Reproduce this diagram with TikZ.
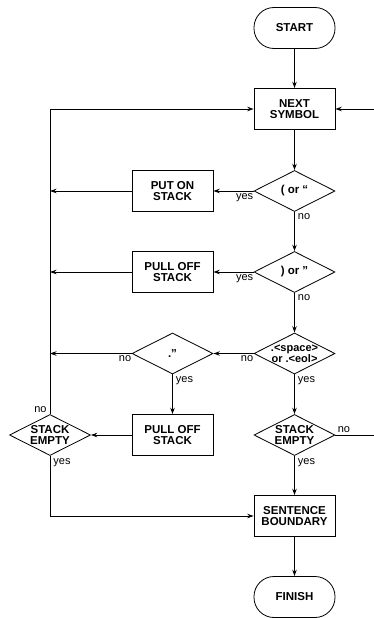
\documentclass[tikz,border=0pt]{standalone}
\usepackage{fontspec}
\setmainfont{Liberation Sans}
\usetikzlibrary{arrows.meta,shapes.geometric}
\begin{document}
\begin{tikzpicture}[x=1pt,y=-1pt,
  line width=0.8pt,
  arr/.style={-{Stealth[length=6.5pt,width=4.5pt,inset=2.2pt]}},
  box/.style={draw,rectangle,minimum width=81pt,minimum height=41pt,inner sep=0pt,align=center,
    font=\fontsize{11.5}{11.5}\selectfont\bfseries},
  term/.style={box,rounded corners=20pt},
  dec/.style={draw,diamond,aspect=2,minimum width=81pt,minimum height=41pt,inner sep=0pt},
  dtext/.style={align=center,inner sep=0pt,font=\fontsize{11.5}{11.5}\selectfont\bfseries},
  lab/.style={inner sep=1pt,font=\fontsize{11}{11}\selectfont}]
\useasboundingbox (0,0) rectangle (374,618);
\node[term] (start) at (294.5,28) {START};
\node[box] (next) at (294.5,109) {NEXT\\SYMBOL};
\node[dec,label={[dtext]center:( or “}] (d1) at (294.5,191) {};
\node[box] (put) at (172.5,191) {PUT ON\\STACK};
\node[dec,label={[dtext]center:) or ”}] (d2) at (294.5,272) {};
\node[box] (pull1) at (172.5,272) {PULL OFF\\STACK};
\node[dec,label={[dtext,font=\fontsize{11}{10.5}\selectfont\bfseries]center:.<space>\\or .<eol>}] (d3) at (294.5,353.5) {};
\node[dec,label={[dtext]center:.”}] (d4) at (172.5,353.5) {};
\node[box] (pull2) at (172.5,435) {PULL OFF\\STACK};
\node[dec,label={[dtext]center:STACK\\EMPTY}] (se1) at (50,435) {};
\node[dec,label={[dtext]center:STACK\\EMPTY}] (se2) at (294.5,435) {};
\node[box] (sb) at (294.5,516) {SENTENCE\\BOUNDARY};
\node[term] (fin) at (294.5,597) {FINISH};
\coordinate (rt1) at (374,109);
\coordinate (rt2) at (374,435);

\draw[arr] (start) -- (next);
\draw[arr] (se1.north) |- (next.west);
\draw[arr] (rt1) -- (next.east);
\draw[arr] (next) -- (d1);
\draw[arr] (d1.west) -- (put.east);
\draw[arr] (put.west) -- (put.west -| se1.north);
\draw[arr] (d1.south) -- (d2.north);
\draw[arr] (d2.west) -- (pull1.east);
\draw[arr] (pull1.west) -- (pull1.west -| se1.north);
\draw[arr] (d2.south) -- (d3.north);
\draw[arr] (d3.west) -- (d4.east);
\draw[arr] (d4.west) -- (d4.west -| se1.north);
\draw[arr] (d4.south) -- (pull2.north);
\draw[arr] (pull2.west) -- (se1.east);
\draw[arr] (d3.south) -- (se2.north);
\draw (se2.east) -- (rt2);
\draw[arr] (se1.south) |- (sb.west);
\draw[arr] (se2.south) -- (sb.north);
\draw[arr] (sb) -- (fin);

\node[lab,anchor=north east] (y1) at ([xshift=1pt,yshift=-1pt]d1.west) {yes};
\node[lab,anchor=north west] (n1) at ([xshift=2pt]d1.south) {no};
\node[lab,anchor=north east] (y2) at ([xshift=1pt,yshift=-1pt]d2.west) {yes};
\node[lab,anchor=north west] (n2) at ([xshift=2pt]d2.south) {no};
\node[lab,anchor=north east] (n3) at ([xshift=1pt,yshift=-1pt]d3.west) {no};
\node[lab,anchor=north west] (y3) at ([xshift=2pt,yshift=-1pt]d3.south) {yes};
\node[lab,anchor=north east] (n4) at ([xshift=1pt,yshift=-1pt]d4.west) {no};
\node[lab,anchor=north west] (y4) at ([xshift=2pt,yshift=-1pt]d4.south) {yes};
\node[lab,anchor=south east] (n5) at ([xshift=-2pt,yshift=0pt]se1.north) {no};
\node[lab,anchor=north west] (y5) at ([xshift=2pt,yshift=-1pt]se1.south) {yes};
\node[lab,anchor=south west] (n6) at ([xshift=1pt,yshift=1pt]se2.east) {no};
\node[lab,anchor=north west] (y6) at ([xshift=2pt,yshift=-1pt]se2.south) {yes};
\end{tikzpicture}
\end{document}
